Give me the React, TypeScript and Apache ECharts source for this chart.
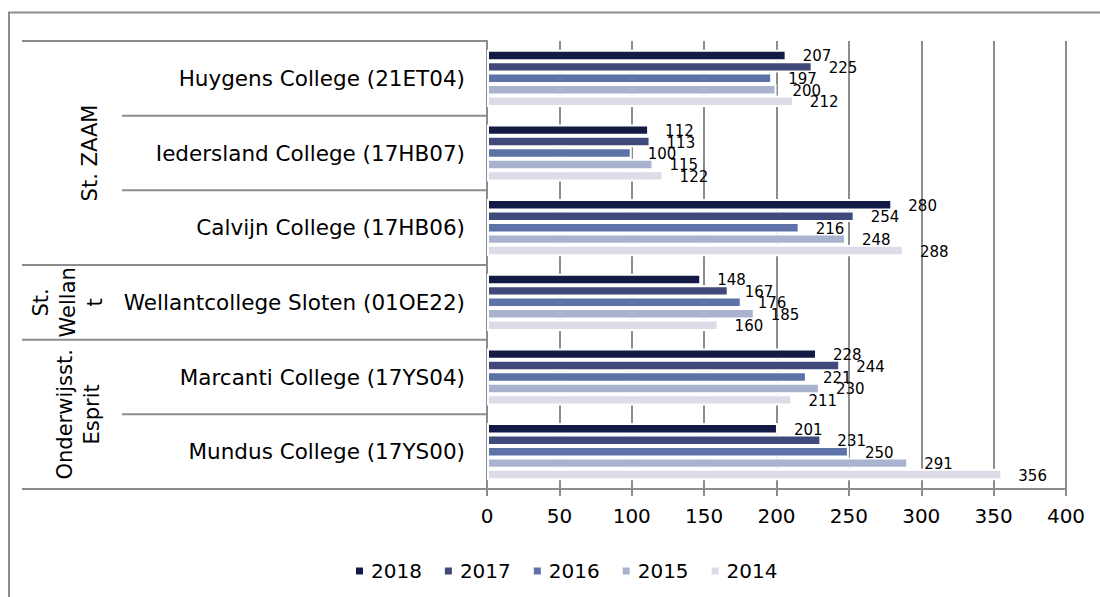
import React, { useEffect, useRef } from "react";
import * as echarts from "echarts";

const categories = [
  "Huygens College (21ET04)",
  "Iedersland College (17HB07)",
  "Calvijn College (17HB06)",
  "Wellantcollege Sloten (01OE22)",
  "Marcanti College (17YS04)",
  "Mundus College (17YS00)",
];
const years = ["2018", "2017", "2016", "2015", "2014"];
const v2018 = [207, 112, 280, 148, 228, 201];
const v2017 = [225, 113, 254, 167, 244, 231];
const v2016 = [197, 100, 216, 176, 221, 250];
const v2015 = [200, 115, 248, 185, 230, 291];
const v2014 = [212, 122, 288, 160, 211, 356];
const seriesValues = [v2018, v2017, v2016, v2015, v2014];
const colors = ["#131a45", "#404a7a", "#5d72a6", "#a9b3d0", "#dcdbe8"];
const groupNames = ["St. ZAAM", "St.\nWellan\nt", "Onderwijsst.\nEsprit"];
const groupStarts = [0, 3, 4];
const groupEnds = [3, 4, 6];
const xTicks = { min: 0, max: 400, interval: 50 };

const FONT = '"DejaVu Sans", Verdana, sans-serif';
const GRAY = "#8c8c8c";

export default function App() {
  const ref = useRef<HTMLDivElement>(null);
  useEffect(() => {
    if (!ref.current) return;
    const chart = echarts.init(ref.current, undefined, { renderer: "svg" });
    const grid = { left: 487, top: 41, width: 579, height: 448 };
    const band = grid.height / categories.length;
    const boundaryY = (k: number) => grid.top + band * k;
    const groupBoundaries = new Set<number>();
    groupStarts.forEach((s) => groupBoundaries.add(s));
    groupEnds.forEach((e) => groupBoundaries.add(e));
    const graphics: any[] = [];
    // outer frame
    graphics.push({
      type: "line",
      shape: { x1: 8, y1: 12.5, x2: 1100, y2: 12.5 },
      style: { stroke: GRAY, lineWidth: 2 },
    });
    graphics.push({
      type: "line",
      shape: { x1: 9, y1: 12, x2: 9, y2: 597 },
      style: { stroke: GRAY, lineWidth: 2 },
    });
    for (let k = 0; k <= categories.length; k++) {
      const y = boundaryY(k);
      const x1 = groupBoundaries.has(k) ? 22 : 122;
      graphics.push({
        type: "line",
        shape: { x1, y1: y, x2: grid.left, y2: y },
        style: { stroke: GRAY, lineWidth: 2 },
      });
    }
    const groupX = [90, 68, 78];
    groupNames.forEach((name, i) => {
      const cy = (boundaryY(groupStarts[i]) + boundaryY(groupEnds[i])) / 2;
      graphics.push({
        type: "text",
        x: groupX[i],
        y: cy,
        rotation: Math.PI / 2,
        style: {
          text: name,
          fontSize: 21,
          fontFamily: FONT,
          fill: "#000",
          align: "center",
          verticalAlign: "middle",
          lineHeight: 27,
        },
      });
    });

    chart.setOption({
      animation: false,
      graphic: graphics,
      legend: {
        data: years,
        left: 349,
        top: 556,
        icon: "rect",
        itemWidth: 9,
        itemHeight: 9,
        itemGap: 21,
        textStyle: { fontSize: 20, fontFamily: FONT, color: "#000", padding: [0, 0, 0, 2] },
      },
      grid: { ...grid, containLabel: false },
      xAxis: {
        type: "value",
        min: xTicks.min,
        max: xTicks.max,
        interval: xTicks.interval,
        axisLine: { show: true, lineStyle: { color: GRAY, width: 2 } },
        axisTick: { show: true, length: 7, lineStyle: { color: GRAY, width: 2 } },
        splitLine: { show: true, lineStyle: { color: GRAY, width: 2 } },
        axisLabel: { fontSize: 20, fontFamily: FONT, color: "#000", margin: 17 },
      },
      yAxis: {
        type: "category",
        data: categories,
        inverse: true,
        axisLine: { show: true, lineStyle: { color: GRAY, width: 2 } },
        axisTick: { show: false },
        axisLabel: { fontSize: 21.5, fontFamily: FONT, color: "#000", margin: 22 },
      },
      series: years.map((y, i) => ({
        name: y,
        type: "bar",
        data: seriesValues[i],
        barGap: "0%",
        barCategoryGap: "23.5%",
        itemStyle: { color: colors[i], borderColor: "#fff", borderWidth: 2 },
        label: {
          show: true,
          position: "right",
          distance: 16,
          offset: [0, 1],
          fontSize: 15,
          fontFamily: FONT,
          color: "#000",
        },
      })),
    });
    return () => chart.dispose();
  }, []);
  return (
    <div
      ref={ref}
      style={{ position: "fixed", left: 0, top: 0, width: 1100, height: 597, background: "#fff" }}
    />
  );
}
